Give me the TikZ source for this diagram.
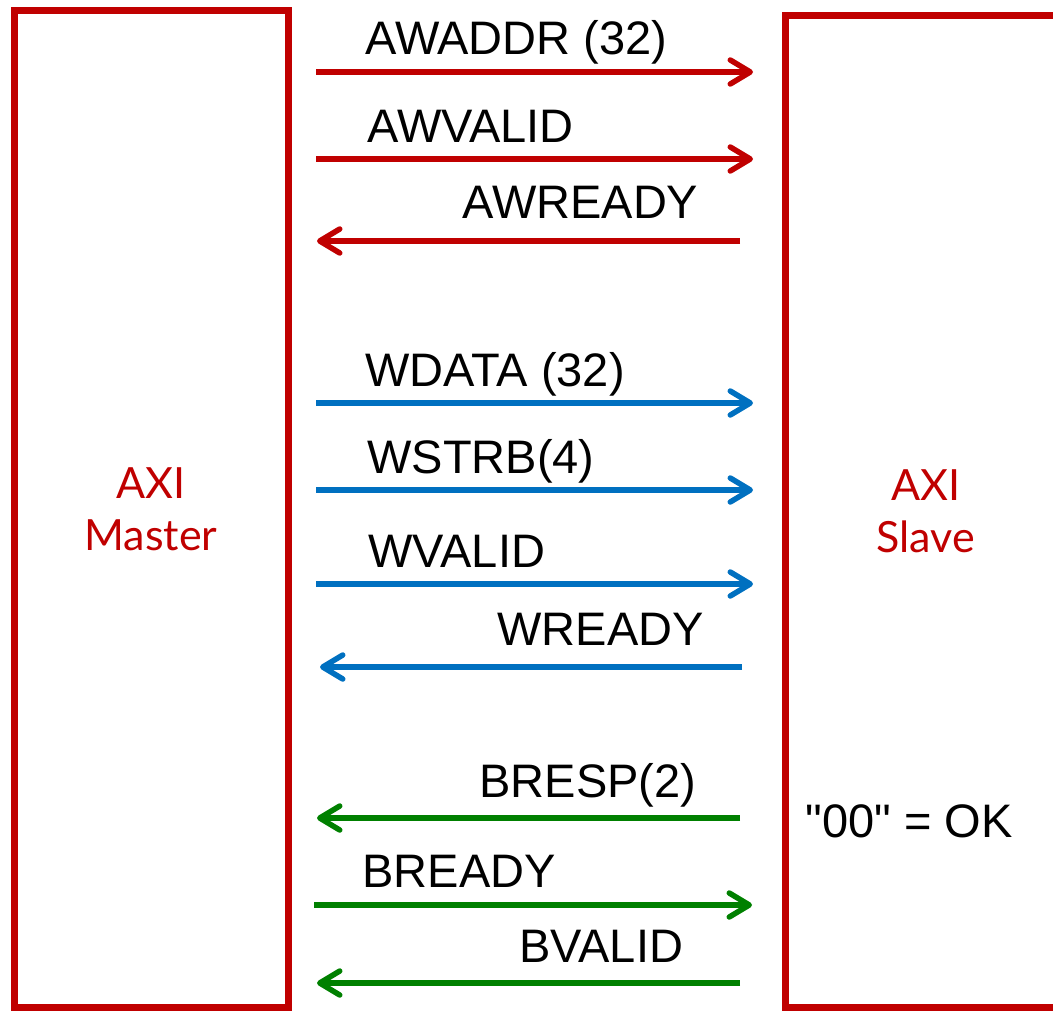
\documentclass[tikz,border=0pt]{standalone}
\usepackage{fontspec}
\setmainfont{Liberation Sans}[Ligatures=TeXOff]
\newfontfamily\boxfont{Lato}
\usetikzlibrary{arrows.meta}
\definecolor{axired}{HTML}{C00000}
\definecolor{axiblue}{HTML}{0070C0}
\definecolor{axigreen}{HTML}{008000}

\begin{document}
\begin{tikzpicture}[
    x=0.5pt, y=-0.5pt,
    blk/.style={rectangle, draw=axired, line width=3.5pt, align=center, text=axired, font=\boxfont\fontsize{21.5}{26}\selectfont},
    sig/.style={anchor=base west, inner sep=0pt, font=\fontsize{23.5}{28}\selectfont},
    wire/.style={line width=2.75pt, -{Straight Barb[length=10pt, width=12pt, round]}},
    toS/.style={wire, shorten <=12.25pt, shorten >=14.5pt},
    toM/.style={wire, shorten <=21pt, shorten >=12.75pt}
]
\useasboundingbox (0,0) rectangle (1053,1011);
\clip (0,0) rectangle (1053,1011);

\node[blk, minimum width=137pt, minimum height=498pt] (master) at (151,509) {AXI\\Master};
\node[blk, minimum width=140.25pt, minimum height=495.75pt] (slave) at (925.75,511.25) {AXI\\Slave};

\node[sig] (awaddr) at (365,55) {AWADDR (32)};
\node[sig] (awvalid) at (367,142) {AWVALID};
\node[sig] (awready) at (462,218) {AWREADY};
\node[sig] (wdata) at (365,386) {WDATA (32)};
\node[sig] (wstrb) at (367,473) {WSTRB(4)};
\node[sig] (wvalid) at (368,567) {WVALID};
\node[sig] (wready) at (497,645) {WREADY};
\node[sig] (bresp) at (479,797) {BRESP(2)};
\node[sig] (bready) at (362,887) {BREADY};
\node[sig] (bvalid) at (519,962) {BVALID};
\node[sig] (okay) at (805,837) {"00" = OK};

\draw[toS, axired] (master.east |- 0,72) -- (slave.west |- 0,72);
\draw[toS, axired] (master.east |- 0,159) -- (slave.west |- 0,159);
\draw[toM, axired] (slave.west |- 0,241) -- (master.east |- 0,241);
\draw[toS, axiblue] (master.east |- 0,403) -- (slave.west |- 0,403);
\draw[toS, axiblue] (master.east |- 0,490) -- (slave.west |- 0,490);
\draw[toS, axiblue] (master.east |- 0,584) -- (slave.west |- 0,584);
\draw[toM, axiblue, shorten <=20pt, shorten >=14.25pt] (slave.west |- 0,667) -- (master.east |- 0,667);
\draw[toM, axigreen] (slave.west |- 0,818) -- (master.east |- 0,818);
\draw[toS, axigreen, shorten <=11.25pt, shorten >=15pt] (master.east |- 0,905) -- (slave.west |- 0,905);
\draw[toM, axigreen] (slave.west |- 0,983) -- (master.east |- 0,983);

\end{tikzpicture}
\end{document}
